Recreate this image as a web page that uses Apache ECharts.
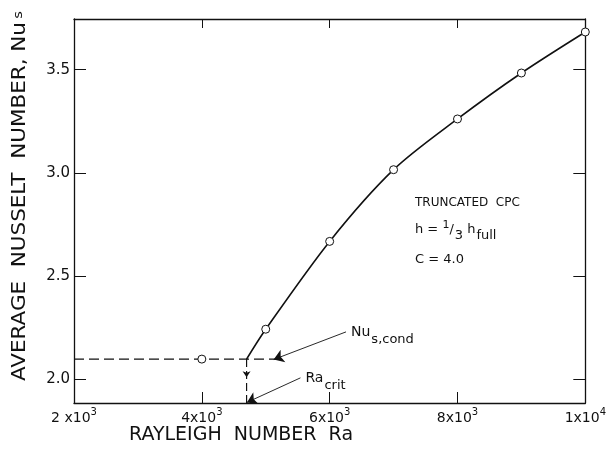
<!DOCTYPE html>
<html>
<head>
<meta charset="utf-8">
<script src="https://cdn.jsdelivr.net/npm/echarts@6/dist/echarts.min.js"></script>
<style>
  html, body { margin: 0; padding: 0; background: #fff; }
  #chart { width: 609px; height: 451px; }
</style>
</head>
<body>
<div id="chart"></div>
<script>
// Average Nusselt number vs Rayleigh number, truncated CPC (h = 1/3 h_full, C = 4.0)

// axis ticks and labels
const raTicks = [2000, 4000, 6000, 8000, 10000];
const raTickBase = ['2 x10', '4x10', '6x10', '8x10', '1x10'];
const raTickExp = ['3', '3', '3', '3', '4'];
const nuTicks = [2.0, 2.5, 3.0, 3.5];
const nuTickLabels = ['2.0', '2.5', '3.0', '3.5'];
const raRange = [2000, 10000];
const nuRange = [1.883, 3.746];

// convective regime (measured points)
const convRa = [5000, 6000, 7000, 8000, 9000, 10000];
const convNu = [2.241, 2.667, 3.015, 3.261, 3.484, 3.683];

// conduction regime and onset of convection
const condRa = [4000];
const condNu = [2.096];
const nuCond = 2.096;
const raCrit = 4700;
const condLineRa = [2000, 5200];

// annotation leaders: [startRa, startNu, endRa, endNu]
const leaderNuCond = [6256, 2.228, 5124, 2.094];
const leaderRaCrit = [5543, 2.005, 4706, 1.886];
const critArrow = [4700, 2.03, 4700, 2.008];

const FONT = '"DejaVu Sans", "Liberation Sans", sans-serif';
const INK = '#111';

const curveData = [[raCrit, nuCond]].concat(convRa.map((r, i) => [r, convNu[i]]));

const chart = echarts.init(document.getElementById('chart'), null, { renderer: 'canvas' });

const markerStyle = { color: '#fff', borderColor: INK, borderWidth: 1, opacity: 1 };

chart.setOption({
  animation: false,
  backgroundColor: '#fff',
  grid: { left: 74, right: 20, top: 19, bottom: 48, containLabel: false },
  xAxis: [
    {
      type: 'value', position: 'bottom', min: raRange[0], max: raRange[1], interval: 2000,
      axisLine: { show: true, onZero: false, lineStyle: { color: INK, width: 1.3 } },
      axisTick: { show: true, inside: true, length: 11, lineStyle: { color: INK, width: 1 } },
      splitLine: { show: false },
      axisLabel: {
        margin: 4, color: INK, fontFamily: FONT,
        formatter: (v) => {
          const i = raTicks.indexOf(v);
          return i < 0 ? '' : '{b|' + raTickBase[i] + '}{e|' + raTickExp[i] + '}';
        },
        rich: {
          b: { fontSize: 14, fontFamily: FONT, color: INK, verticalAlign: 'bottom' },
          e: { fontSize: 10, fontFamily: FONT, color: INK, verticalAlign: 'bottom', padding: [0, 0, 8, 0] }
        }
      }
    },
    {
      type: 'value', position: 'top', min: raRange[0], max: raRange[1], interval: 2000,
      axisLine: { show: true, onZero: false, lineStyle: { color: INK, width: 1.3 } },
      axisTick: { show: true, inside: true, length: 9, lineStyle: { color: INK, width: 1 } },
      axisLabel: { show: false },
      splitLine: { show: false }
    }
  ],
  yAxis: [
    {
      type: 'value', position: 'left', min: nuRange[0], max: nuRange[1],
      axisLine: { show: true, onZero: false, lineStyle: { color: INK, width: 1.3 } },
      axisTick: { show: true, inside: true, length: 12, customValues: nuTicks, lineStyle: { color: INK, width: 1 } },
      splitLine: { show: false },
      axisLabel: {
        margin: 4, color: INK, fontSize: 15, fontFamily: FONT,
        customValues: nuTicks,
        formatter: (v) => {
          const i = nuTicks.findIndex(t => Math.abs(t - v) < 1e-6);
          return i < 0 ? '' : nuTickLabels[i];
        }
      }
    },
    {
      type: 'value', position: 'right', min: nuRange[0], max: nuRange[1],
      axisLine: { show: true, onZero: false, lineStyle: { color: INK, width: 1.3 } },
      axisTick: { show: true, inside: true, length: 12, customValues: nuTicks, lineStyle: { color: INK, width: 1 } },
      axisLabel: { show: false },
      splitLine: { show: false }
    }
  ],
  series: [
    {
      // conduction level, dashed
      type: 'line', xAxisIndex: 0, yAxisIndex: 0, silent: true, symbol: 'none', z: 2,
      data: condLineRa.map(r => [r, nuCond]),
      lineStyle: { color: INK, width: 1.2, type: [10, 5] }
    },
    {
      // drop from onset to the Ra axis, dashed
      type: 'line', silent: true, symbol: 'none', z: 2,
      data: [[raCrit, nuCond], [raCrit, nuRange[0]]],
      lineStyle: { color: INK, width: 1.2, type: [8, 4] }
    },
    {
      // convective branch
      type: 'line', silent: true, z: 3, smooth: 0.3,
      data: curveData.map((p, i) => ({ value: p, symbol: i === 0 ? 'none' : 'circle' })),
      symbolSize: 8, showAllSymbol: true,
      itemStyle: markerStyle,
      lineStyle: { color: INK, width: 1.6 }
    },
    {
      // conduction point
      type: 'scatter', silent: true, z: 4, symbol: 'circle', symbolSize: 8,
      data: condRa.map((r, i) => [r, condNu[i]]),
      itemStyle: markerStyle
    },
    {
      // leader arrows
      type: 'lines', coordinateSystem: 'cartesian2d', silent: true, z: 5,
      symbol: ['none', 'arrow'], symbolSize: [5, 10],
      lineStyle: { color: INK, width: 0.9, opacity: 1 },
      data: [leaderNuCond, leaderRaCrit].map(a => ({ coords: [[a[0], a[1]], [a[2], a[3]]] }))
    },
    {
      // small arrowhead on the drop to Ra_crit
      type: 'lines', coordinateSystem: 'cartesian2d', silent: true, z: 5,
      symbol: ['none', 'arrow'], symbolSize: [3, 6],
      lineStyle: { color: INK, width: 1, opacity: 1 },
      data: [{ coords: [[critArrow[0], critArrow[1]], [critArrow[2], critArrow[3]]] }]
    },
    {
      // annotation labels
      type: 'scatter', silent: true, symbolSize: 0, z: 6,
      itemStyle: { opacity: 1 },
      data: [
        { value: [leaderNuCond[0], leaderNuCond[1]], label: { formatter: '{b|Nu}{s|s,cond}' } },
        { value: [leaderRaCrit[0], leaderRaCrit[1]], label: { formatter: '{b|Ra}{s|crit}' } }
      ],
      label: {
        show: true, position: 'right', distance: 5, offset: [0, 4], color: INK, opacity: 1, fontFamily: FONT,
        rich: {
          b: { fontSize: 14, fontFamily: FONT, color: INK, verticalAlign: 'bottom', padding: [0, 1, 7, 0] },
          s: { fontSize: 13, fontFamily: FONT, color: INK, verticalAlign: 'bottom' }
        }
      }
    }
  ],
  graphic: [
    {
      type: 'text', x: 241, y: 435, silent: true,
      style: { text: 'RAYLEIGH  NUMBER  Ra', font: '19px ' + FONT, fill: INK, align: 'center', verticalAlign: 'middle' }
    },
    {
      type: 'text', x: 23, y: 196, rotation: Math.PI / 2, scaleX: 1.13, silent: true,
      style: {
        text: '{b|AVERAGE  NUSSELT  NUMBER, Nu}{s|s}', align: 'center', verticalAlign: 'middle', fill: INK,
        rich: {
          b: { font: '19px ' + FONT, fill: INK, verticalAlign: 'bottom', padding: [0, 0, 5, 0] },
          s: { font: '13px ' + FONT, fill: INK, verticalAlign: 'bottom', padding: [0, 0, 10, 3] }
        }
      }
    },
    {
      type: 'text', x: 415, y: 197, silent: true,
      style: { text: 'TRUNCATED  CPC', font: '12px ' + FONT, fill: INK, align: 'left', verticalAlign: 'top' }
    },
    {
      type: 'text', x: 415, y: 220, silent: true,
      style: {
        text: '{m|h = }{u|1}{m|/}{d|3}{m| h}{d|full}', align: 'left', verticalAlign: 'top', fill: INK,
        rich: {
          m: { font: '13px ' + FONT, fill: INK, verticalAlign: 'bottom', padding: [0, 0, 6, 0] },
          u: { font: '11px ' + FONT, fill: INK, verticalAlign: 'bottom', padding: [0, 0, 11, 0] },
          d: { font: '13px ' + FONT, fill: INK, verticalAlign: 'bottom', padding: [0, 0, 0, 1] }
        }
      }
    },
    {
      type: 'text', x: 415, y: 253, silent: true,
      style: { text: 'C = 4.0', font: '13px ' + FONT, fill: INK, align: 'left', verticalAlign: 'top' }
    }
  ]
});
</script>
</body>
</html>
